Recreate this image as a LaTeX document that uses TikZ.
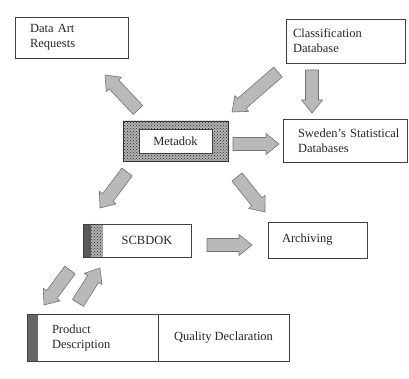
\documentclass[tikz,border=0pt]{standalone}
\usepackage{fontspec}
\setmainfont{Liberation Serif}
\usetikzlibrary{arrows.meta,positioning,calc,patterns}

\tikzset{
  box/.style={draw=black!75, line width=0.7pt, fill=white, text=black!85,
    inner ysep=2pt, outer sep=0pt},
  leftbox/.style={box, align=left, anchor=north west},
  stipple/.style={draw=black!80, line width=0.7pt, preaction={fill=gray!60},
    pattern=crosshatch dots, pattern color=black!85, outer sep=0pt},
  fatarrow/.style={fill=gray!55, draw=black!55, line width=0.6pt, line join=round},
}

% block arrow from tail #1 to head #2
\newcommand\fatarrow[2]{%
  \path #1 coordinate (fa-t) #2 coordinate (fa-h);
  \coordinate (fa-n) at ($(fa-h)!13pt!(fa-t)$);
  \filldraw[fatarrow] ($(fa-t)!6.5pt!90:(fa-h)$) -- ($(fa-n)!6.5pt!-90:(fa-t)$)
    -- ($(fa-n)!10.5pt!-90:(fa-t)$) -- (fa-h) -- ($(fa-n)!10.5pt!90:(fa-t)$)
    -- ($(fa-n)!6.5pt!90:(fa-t)$) -- ($(fa-t)!6.5pt!-90:(fa-h)$) -- cycle;
}

\begin{document}
\begin{tikzpicture}[x=1pt, y=-1pt, font=\fontsize{12.5}{15}\selectfont]
  \useasboundingbox (0,0) rectangle (409,379);

  % top row
  \node[leftbox, inner xsep=15pt, text width=83pt, minimum height=41pt] (dar)
    at (15,17) {Data Art\\Requests};
  \node[leftbox, inner xsep=7pt, text width=105pt, minimum height=44pt] (cls)
    at (286,19) {Classification\\Database};

  % Metadok with its stippled frame
  \node[stipple, minimum width=105pt, minimum height=40pt] (meta) at (175.5,141) {};
  \node[box, minimum width=73pt, minimum height=24pt] (metaname) at (meta) {Metadok};
  \node[leftbox, inner xsep=15pt, text width=94pt, minimum height=43pt] (swe)
    at (283,119) {\mbox{Sweden's Statistical}\\Databases};

  % middle row
  \node[box, anchor=north west, inner xsep=0pt, minimum width=108pt, minimum height=33pt,
    path picture={
      \fill[black!65] (path picture bounding box.south west)
        rectangle ([xshift=8pt]path picture bounding box.north west);
      \fill[preaction={fill=gray!60}, pattern=crosshatch dots, pattern color=black!85]
        ([xshift=8pt]path picture bounding box.south west)
        rectangle ([xshift=20pt]path picture bounding box.north west);
    }] (scb) at (83,224) {\hspace*{20pt}SCBDOK};
  \node[leftbox, inner xsep=14pt, text width=71pt, minimum height=36pt] (arc)
    at (268,222) {Archiving};

  % bottom: two-cell box
  \node[leftbox, inner xsep=25pt, text width=81pt, minimum height=47pt,
    path picture={
      \fill[black!60] (path picture bounding box.south west)
        rectangle ([xshift=11pt]path picture bounding box.north west);
    }] (prod) at (27,314) {Product\\Description};
  \node[box, minimum width=131pt, minimum height=47pt, right=0pt of prod] (qual)
    {Quality Declaration};

  % block arrows
  \fatarrow{($(meta.north west)+(15,-11)$)}{($(dar.south east)+(-23,17)$)}
  \fatarrow{($(cls.south west)+(-8,9)$)}{($(meta.north east)+(4,-9)$)}
  \fatarrow{($(cls.south west)+(26,7)$)}{($(swe.north west)+(29,-6)$)}
  \fatarrow{($(meta.east)+(5,3)$)}{($(swe.west)+(-4,3.5)$)}
  \fatarrow{($(meta.south east)+(9,16)$)}{($(arc.north west)+(-3,-10)$)}
  \fatarrow{($(meta.south west)+(4,11)$)}{($(scb.north west)+(17,-16)$)}
  \fatarrow{($(scb.east)+(16,4.5)$)}{($(arc.west)+(-16,5)$)}
  \fatarrow{($(scb.south west)+(-13,13)$)}{($(prod.north west)+(17,-9)$)}
  \fatarrow{($(prod.north west)+(51,-11)$)}{($(scb.south west)+(17,11)$)}
\end{tikzpicture}
\end{document}
